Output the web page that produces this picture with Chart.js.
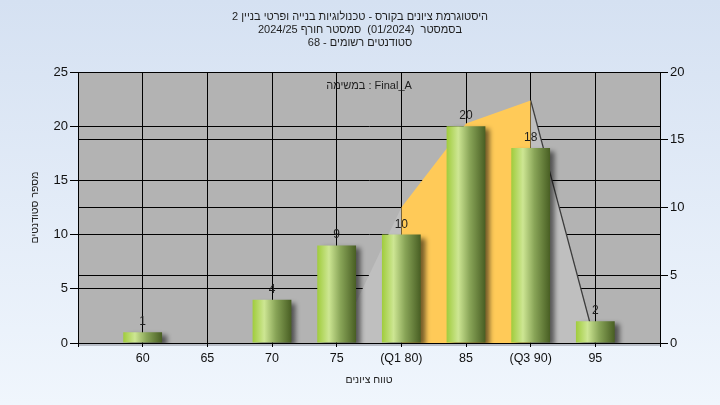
<!DOCTYPE html>
<html lang="he">
<head>
<meta charset="UTF-8">
<title>היסטוגרמת ציונים</title>
<script src="https://cdn.jsdelivr.net/npm/chart.js"></script>
<style>
  html, body { margin: 0; padding: 0; background: #e4edf8; }
  #wrap { width: 720px; height: 405px; }
</style>
</head>
<body>
<div id="wrap"><canvas id="histChart" width="720" height="405"></canvas></div>
<script>
// grade buckets and student counts
const grades = [60, 65, 70, 75, 80, 85, 90, 95];
const counts = [1, 0, 4, 9, 10, 20, 18, 2];
const gradeLabels = ['60', '65', '70', '75', '(Q1 80)', '85', '(Q3 90)', '95'];

// distribution shape on the right axis (Q1..Q3 part is orange)
const curveGrades = [75, 80, 85, 90, 95];
const curveValues = [0, 10, 16.2, 17.9, 0];

const leftTicks = [0, 5, 10, 15, 20, 25];
const rightTicks = [0, 5, 10, 15, 20];

const titleLines = [
  'היסטוגרמת ציונים בקורס - טכנולוגיות בנייה ופרטי בניין 2',
  'בסמסטר  (01/2024)  סמסטר חורף 2024/25',
  'סטודנטים רשומים - 68'
];
const taskNote = 'במשימה : Final_A';

const FONT = '"Liberation Sans", Arial, sans-serif';
const barShare = 0.6;

function curvePart(from, to) {
  const pts = [];
  for (let i = from; i <= to; i++) pts.push({ x: curveGrades[i], y: curveValues[i] });
  return pts;
}

function barFill(c) {
  const chart = c.chart;
  const xs = chart.scales && chart.scales.x;
  if (!xs || c.type !== 'data') return '#8fb245';
  const cx = xs.getPixelForValue(grades[c.dataIndex]);
  const half = (xs.getPixelForValue(60) - xs.getPixelForValue(55)) * barShare / 2;
  if (!isFinite(cx) || !isFinite(half) || half <= 0) return '#8fb245';
  const g = chart.ctx.createLinearGradient(cx - half, 0, cx + half, 0);
  g.addColorStop(0, '#a0cc3c');
  g.addColorStop(0.3, '#cde693');
  g.addColorStop(0.6, '#88a457');
  g.addColorStop(1, '#485e23');
  return g;
}

// page background + grey plot area
const backdrop = {
  id: 'backdrop',
  beforeDraw(chart) {
    const { ctx, width, height, chartArea: a } = chart;
    ctx.save();
    const g = ctx.createLinearGradient(0, 0, 0, height);
    g.addColorStop(0, '#d5e1f2');
    g.addColorStop(1, '#f0f6fd');
    ctx.fillStyle = g;
    ctx.fillRect(0, 0, width, height);
    ctx.fillStyle = '#b3b3b3';
    ctx.fillRect(a.left, a.top, a.right - a.left, a.bottom - a.top);
    // faint shadow under the x axis line
    ctx.fillStyle = 'rgba(90,90,100,0.35)';
    ctx.fillRect(a.left, a.bottom + 1, a.right - a.left, 2);
    ctx.restore();
  }
};

// hebrew title needs rtl direction
const hebrewTitle = {
  id: 'hebrewTitle',
  afterDraw(chart) {
    const { ctx, chartArea: a } = chart;
    ctx.save();
    ctx.font = '11px ' + FONT;
    ctx.fillStyle = '#1e1e1e';
    ctx.textAlign = 'center';
    ctx.textBaseline = 'middle';
    ctx.direction = 'rtl';
    titleLines.forEach((t, i) => ctx.fillText(t, chart.width / 2, 17 + i * 12.8));
    ctx.direction = 'ltr';
    ctx.fillText(taskNote, (a.left + a.right) / 2, a.top + 14);
    ctx.restore();
  }
};

// soft shadow behind the bars and the count above each one
const barDecor = {
  id: 'barDecor',
  beforeDatasetDraw(chart, args) {
    if (args.meta.type !== 'bar') return;
    const ctx = chart.ctx;
    ctx.save();
    ctx.shadowColor = 'rgba(0,0,0,0.55)';
    ctx.shadowBlur = 5;
    ctx.shadowOffsetX = 5;
    ctx.shadowOffsetY = 3;
  },
  afterDatasetDraw(chart, args) {
    if (args.meta.type !== 'bar') return;
    const ctx = chart.ctx;
    ctx.restore();
    ctx.save();
    ctx.font = '12px ' + FONT;
    ctx.fillStyle = '#1e1e1e';
    ctx.textAlign = 'center';
    ctx.textBaseline = 'alphabetic';
    args.meta.data.forEach((el, i) => {
      if (counts[i] > 0) ctx.fillText(String(counts[i]), el.x, el.y - 7);
    });
    ctx.restore();
  }
};

const tickFont = { family: FONT, size: 13 };

new Chart(document.getElementById('histChart'), {
  type: 'bar',
  data: {
    datasets: [
      {
        type: 'bar',
        data: grades.map((g, i) => ({ x: g, y: counts[i] })),
        backgroundColor: barFill,
        borderWidth: 0,
        barPercentage: barShare,
        categoryPercentage: 1,
        yAxisID: 'y',
        order: 0
      },
      {
        type: 'line',
        data: curvePart(0, 1),
        yAxisID: 'y1',
        borderWidth: 0,
        pointRadius: 0,
        fill: 'origin',
        backgroundColor: '#bfbfbf',
        order: 1
      },
      {
        type: 'line',
        data: curvePart(1, 3),
        yAxisID: 'y1',
        borderWidth: 0,
        pointRadius: 0,
        fill: 'origin',
        backgroundColor: '#ffca58',
        order: 1
      },
      {
        type: 'line',
        data: curvePart(3, 4),
        yAxisID: 'y1',
        borderColor: '#3c3c3c',
        borderWidth: 1.3,
        pointRadius: 0,
        fill: 'origin',
        backgroundColor: '#bfbfbf',
        order: 1
      }
    ]
  },
  options: {
    responsive: false,
    animation: false,
    layout: { padding: { top: 72, left: 0, right: 0, bottom: 0 } },
    plugins: {
      legend: { display: false },
      tooltip: { enabled: false },
      title: { display: false }
    },
    scales: {
      x: {
        type: 'linear',
        min: 55,
        max: 100,
        offset: false,
        afterFit(s) { s.height = 62; },
        grid: { color: '#000', offset: false, tickLength: 4 },
        border: { color: '#000' },
        ticks: {
          stepSize: 5,
          autoSkip: false,
          maxRotation: 0,
          padding: 4,
          color: '#111',
          font: { family: FONT, size: 12.5 },
          callback(v) {
            const i = grades.indexOf(v);
            return i >= 0 ? gradeLabels[i] : '';
          }
        },
        title: {
          display: true,
          text: 'טווח ציונים',
          color: '#222',
          font: { family: FONT, size: 10.5 },
          padding: { top: 0, bottom: 19 }
        }
      },
      y: {
        position: 'left',
        min: leftTicks[0],
        max: leftTicks[leftTicks.length - 1],
        afterFit(s) { s.width = 78; },
        afterBuildTicks(s) { s.ticks = leftTicks.map(v => ({ value: v })); },
        grid: { color: '#000', tickLength: 8 },
        border: { color: '#000' },
        ticks: { padding: 2, color: '#111', font: tickFont },
        title: {
          display: true,
          text: 'מספר סטודנטים',
          color: '#222',
          font: { family: FONT, size: 10.5 },
          padding: { top: 29, bottom: 0 }
        }
      },
      y1: {
        position: 'right',
        min: rightTicks[0],
        max: rightTicks[rightTicks.length - 1],
        afterFit(s) { s.width = 60; },
        afterBuildTicks(s) { s.ticks = rightTicks.map(v => ({ value: v })); },
        grid: { color: '#000', tickLength: 8 },
        border: { color: '#000' },
        ticks: { padding: 2, color: '#111', font: tickFont }
      }
    }
  },
  plugins: [backdrop, barDecor, hebrewTitle]
});
</script>
</body>
</html>
